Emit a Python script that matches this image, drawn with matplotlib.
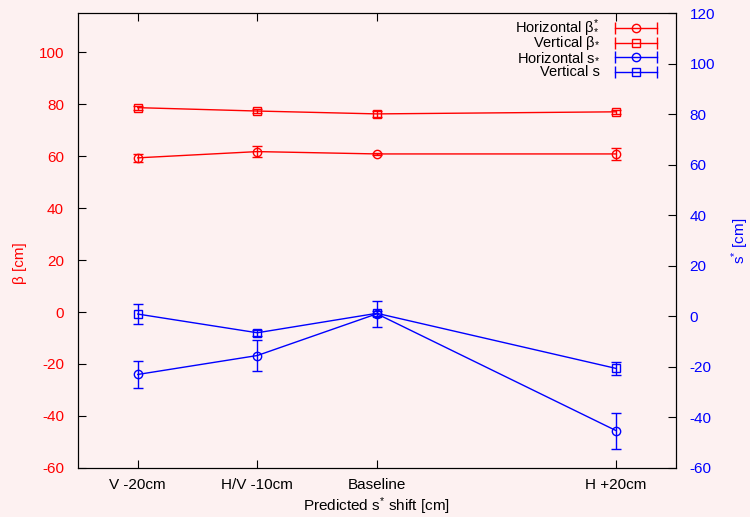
import matplotlib.pyplot as plt
import numpy as np

plt.rcParams['font.family'] = ['Liberation Sans', 'DejaVu Sans']
plt.rcParams['mathtext.fontset'] = 'custom'
plt.rcParams['mathtext.rm'] = 'Liberation Sans'
plt.rcParams['mathtext.it'] = 'Liberation Sans'
plt.rcParams['font.size'] = 11
plt.rcParams['axes.unicode_minus'] = False

shift = [-20, -10, 0, 20]
shift_labels = ['V -20cm', 'H/V -10cm', 'Baseline', 'H +20cm']

beta_h = [59.3, 61.7, 60.8, 60.8]
beta_h_err = [1.5, 2.2, 0.5, 2.2]
beta_v = [78.6, 77.3, 76.2, 77.0]
beta_v_err = [0.8, 0.9, 1.2, 0.8]

s_h = [-23.0, -15.5, 1.0, -45.2]
s_h_err = [5.4, 6.0, 5.2, 7.1]
s_v = [0.9, -6.5, 1.2, -20.6]
s_v_err = [3.8, 1.2, 1.0, 2.5]

legend_labels = [r'Horizontal β$^{*}_{*}$', r'Vertical β$_{*}$',
                 r'Horizontal s$_{*}$', 'Vertical s']

bg = '#fdf1f1'
red = '#ff0000'
blue = '#0000ff'

fig = plt.figure(figsize=(7.5, 5.17), dpi=100, facecolor=bg)
ax = fig.add_axes([0.104, 0.0948, 0.797, 0.880], facecolor=bg)
ax2 = ax.twinx()

kw = dict(lw=1.0, elinewidth=1.0, capsize=3.5, capthick=1.0, ms=6, mfc='none', mew=1.0)
ax.errorbar(shift, beta_h, yerr=beta_h_err, color=red, marker='o', **kw)
ax.errorbar(shift, beta_v, yerr=beta_v_err, color=red, marker='s', **kw)
ax2.errorbar(shift, s_h, yerr=s_h_err, color=blue, marker='o', **kw)
ax2.errorbar(shift, s_v, yerr=s_v_err, color=blue, marker='s', **kw)

# gnuplot-style key: text on the left, horizontal sample with end caps
styles = [(red, 'o'), (red, 's'), (blue, 'o'), (blue, 's')]
rows = [0.967, 0.934, 0.903, 0.870]
for (c, m), yk, lab in zip(styles, rows, legend_labels):
    ax.text(0.873, yk, lab, transform=ax.transAxes, ha='right', va='center',
            fontsize=10.5)
    ax.plot([0.898, 0.968], [yk, yk], color=c, lw=1.0, transform=ax.transAxes,
            clip_on=False)
    ax.plot([0.898, 0.968], [yk, yk], color=c, lw=0, marker='|', ms=8, mew=1.0,
            transform=ax.transAxes, clip_on=False)
    ax.plot([0.933], [yk], color=c, marker=m, ms=6, mfc='none', mew=1.0,
            transform=ax.transAxes, clip_on=False)

ax.set_xlim(-25, 25)
ax.set_ylim(-60, 115)
ax2.set_ylim(-60, 120)
ax.set_xticks(shift)
ax.set_xticklabels(shift_labels)
ax.set_yticks(np.arange(-60, 101, 20))
ax2.set_yticks(np.arange(-60, 121, 20))

ax.tick_params(axis='x', direction='in', top=True, length=6, pad=7, colors='black')
ax.tick_params(axis='y', direction='in', length=6, labelcolor=red, pad=10)
ax2.tick_params(axis='y', direction='in', length=6, labelcolor=blue, pad=10)

ax.set_xlabel(r'Predicted s$^{*}$ shift [cm]', labelpad=3)
ax.set_ylabel('β [cm]', color=red)
ax.yaxis.set_label_coords(-0.085, 0.45)
ax2.set_ylabel(r's$^{*}$ [cm]', color=blue)
ax2.yaxis.set_label_coords(1.09, 0.5)

fig.savefig('out.png', dpi=100, facecolor=bg)
